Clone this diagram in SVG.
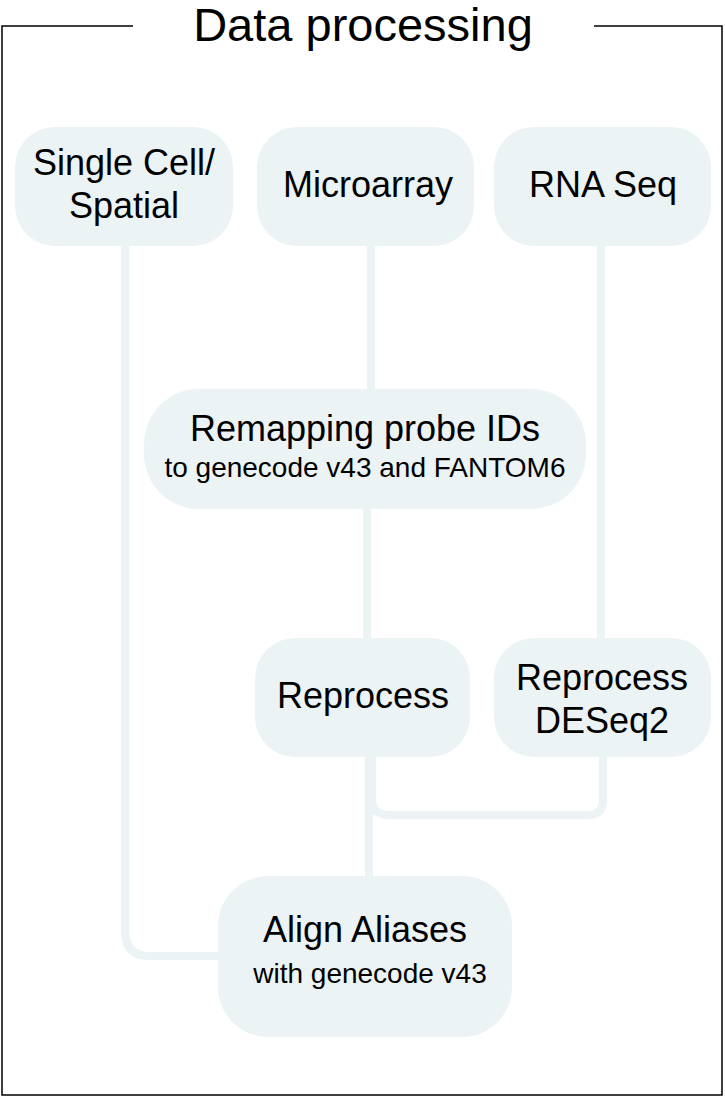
<svg xmlns="http://www.w3.org/2000/svg" width="725" height="1097" viewBox="0 0 725 1097">
<style>
.frame{fill:none;stroke:#000;stroke-width:1.5}
.node{fill:#ecf3f5}
.conn{fill:none;stroke:#ecf3f5;stroke-width:8}
text{font-family:"Liberation Sans",Arial,sans-serif;fill:#000;text-anchor:middle}
.t{font-size:36px}
.s{font-size:28px}
.title{font-size:47px}
</style>
<rect width="725" height="1097" fill="#fff"/>
<g id="frame">
<path class="frame" d="M133,26 H2 V1095 H722 V26 H594"/>
<text class="title" x="363" y="41">Data processing</text>
</g>
<g id="connectors">
<path class="conn" d="M125,246 V931 Q125,956 150,956 H220"/>
<path class="conn" d="M371,246 V391"/>
<path class="conn" d="M367,507 V640"/>
<path class="conn" d="M601,246 V640"/>
<path class="conn" d="M369,755 V878"/>
<path class="conn" d="M372,757 V800 Q372,815 390,815 H588 Q603,815 603,800 V755"/>
</g>
<g id="single-cell">
<rect class="node" x="15" y="127" width="218" height="119" rx="40"/>
<text class="t" x="124" y="175">Single Cell/</text>
<text class="t" x="124" y="218">Spatial</text>
</g>
<g id="microarray">
<rect class="node" x="257" y="127" width="217" height="119" rx="40"/>
<text class="t" x="368" y="197">Microarray</text>
</g>
<g id="rna-seq">
<rect class="node" x="494" y="127" width="217" height="119" rx="40"/>
<text class="t" x="603" y="197">RNA Seq</text>
</g>
<g id="remapping">
<rect class="node" x="144" y="389" width="442" height="120" rx="55"/>
<text class="t" x="365" y="441">Remapping probe IDs</text>
<text class="s" x="365" y="477">to genecode v43 and FANTOM6</text>
</g>
<g id="reprocess">
<rect class="node" x="255" y="638" width="215" height="119" rx="40"/>
<text class="t" x="363" y="708">Reprocess</text>
</g>
<g id="reprocess-deseq2">
<rect class="node" x="494" y="638" width="217" height="119" rx="40"/>
<text class="t" x="602" y="690">Reprocess</text>
<text class="t" x="602" y="733">DESeq2</text>
</g>
<g id="align-aliases">
<rect class="node" x="218" y="876" width="294" height="161" rx="50"/>
<text class="t" x="365" y="942">Align Aliases</text>
<text class="s" x="370" y="983">with genecode v43</text>
</g>
</svg>
